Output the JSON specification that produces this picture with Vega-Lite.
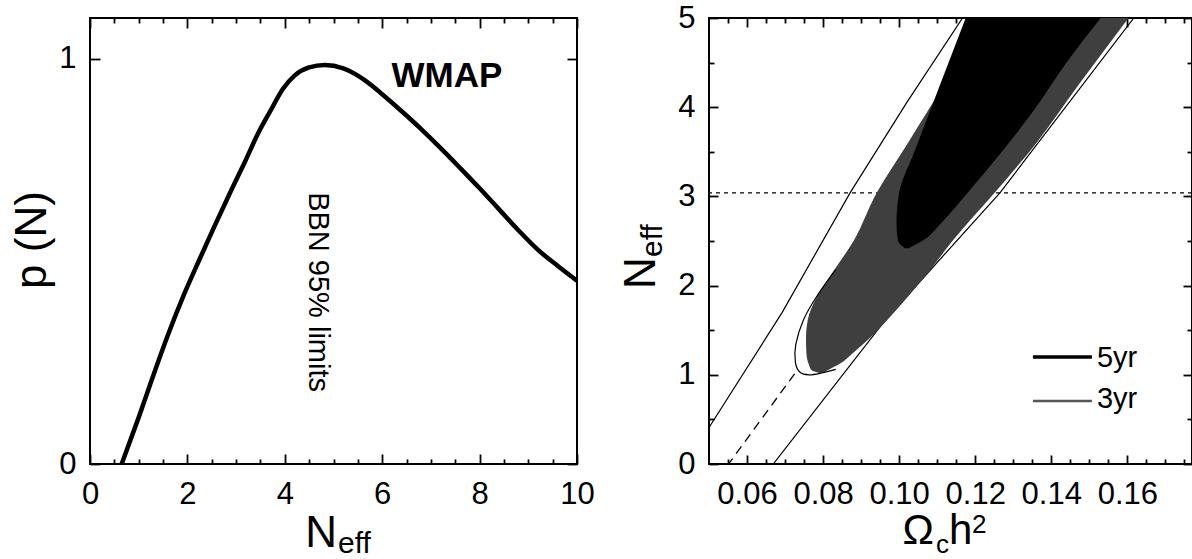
{
  "$schema": "https://vega.github.io/schema/vega-lite/v6.json",
  "autosize": {"type": "none"},
  "padding": {"left": 90, "top": 18, "right": 1102, "bottom": 541},
  "bounds": "flush",
  "spacing": 132,
  "config": {
    "font": "Liberation Sans",
    "view": {"stroke": "#000", "strokeWidth": 2},
    "axis": {
      "domain": false, "grid": false, "zindex": 1,
      "labelFont": "Liberation Sans", "labelFontSize": 31, "labelColor": "#000",
      "labelFlush": false, "labelOverlap": false,
      "tickColor": "#000", "tickWidth": 1.8
    },
    "text": {"font": "Liberation Sans", "color": "#000"}
  },
  "datasets": {
    "one": [{}],
    "curve": [
      {"N": 0.65, "p": 0.0}, {"N": 1.0, "p": 0.115}, {"N": 1.29, "p": 0.215},
      {"N": 1.6, "p": 0.318}, {"N": 1.92, "p": 0.415}, {"N": 2.25, "p": 0.505},
      {"N": 2.55, "p": 0.585}, {"N": 2.9, "p": 0.675}, {"N": 3.18, "p": 0.745},
      {"N": 3.45, "p": 0.815}, {"N": 3.7, "p": 0.87}, {"N": 3.96, "p": 0.925},
      {"N": 4.2, "p": 0.958}, {"N": 4.5, "p": 0.978}, {"N": 4.82, "p": 0.984},
      {"N": 5.2, "p": 0.976}, {"N": 5.5, "p": 0.958}, {"N": 5.75, "p": 0.937},
      {"N": 6.0, "p": 0.912}, {"N": 6.4, "p": 0.87}, {"N": 6.8, "p": 0.826},
      {"N": 7.2, "p": 0.779}, {"N": 7.6, "p": 0.73}, {"N": 8.0, "p": 0.68},
      {"N": 8.4, "p": 0.628}, {"N": 8.8, "p": 0.576}, {"N": 9.2, "p": 0.528},
      {"N": 9.6, "p": 0.489}, {"N": 10.0, "p": 0.452}
    ],
    "outer": [
      {"s": "L", "x": 0.0495, "y": 0.375}, {"s": "L", "x": 0.05047, "y": 0.44},
      {"s": "L", "x": 0.06925, "y": 1.7}, {"s": "L", "x": 0.08709, "y": 3.04},
      {"s": "L", "x": 0.10211, "y": 4.06}, {"s": "L", "x": 0.11667, "y": 5.0},
      {"s": "L", "x": 0.1174, "y": 5.05},
      {"s": "R", "x": 0.0665, "y": -0.03}, {"s": "R", "x": 0.0669, "y": 0.0},
      {"s": "R", "x": 0.0965, "y": 1.62}, {"s": "R", "x": 0.1265, "y": 3.04},
      {"s": "R", "x": 0.1617, "y": 5.0}, {"s": "R", "x": 0.1627, "y": 5.05}
    ],
    "diag": [
      {"x": 0.0548, "y": -0.02}, {"x": 0.073, "y": 1.04}
    ],
    "band95": [
      {"N": 1.02, "lo": 0.079, "hi": 0.080},
      {"N": 1.05, "lo": 0.077, "hi": 0.0812},
      {"N": 1.12, "lo": 0.0762, "hi": 0.0843},
      {"N": 1.25, "lo": 0.0756, "hi": 0.088},
      {"N": 1.4, "lo": 0.0755, "hi": 0.092},
      {"N": 1.62, "lo": 0.076, "hi": 0.097},
      {"N": 1.86, "lo": 0.0782, "hi": 0.102},
      {"N": 2.14, "lo": 0.0824, "hi": 0.1075},
      {"N": 2.5, "lo": 0.088, "hi": 0.114},
      {"N": 3.04, "lo": 0.0941, "hi": 0.1251},
      {"N": 3.6, "lo": 0.1023, "hi": 0.1361},
      {"N": 4.24, "lo": 0.1115, "hi": 0.147},
      {"N": 5.0, "lo": 0.1209, "hi": 0.1603}
    ],
    "band68": [
      {"N": 2.42, "lo": 0.1015, "hi": 0.1025},
      {"N": 2.5, "lo": 0.0997, "hi": 0.106},
      {"N": 2.7, "lo": 0.0993, "hi": 0.111},
      {"N": 3.04, "lo": 0.1, "hi": 0.118},
      {"N": 3.5, "lo": 0.104, "hi": 0.127},
      {"N": 4.0, "lo": 0.1085, "hi": 0.136},
      {"N": 4.5, "lo": 0.113, "hi": 0.144},
      {"N": 5.0, "lo": 0.1175, "hi": 0.153}
    ],
    "inner": [
      {"i": 1, "x": 0.08333, "y": 2.18}, {"i": 2, "x": 0.07864, "y": 1.9},
      {"i": 3, "x": 0.07488, "y": 1.62}, {"i": 4, "x": 0.07282, "y": 1.34},
      {"i": 5, "x": 0.07272, "y": 1.14}, {"i": 6, "x": 0.07394, "y": 1.028},
      {"i": 7, "x": 0.07629, "y": 1.0}, {"i": 8, "x": 0.07958, "y": 1.02},
      {"i": 9, "x": 0.08333, "y": 1.06}
    ]
  },
  "hconcat": [
    {
      "width": 487,
      "height": 446,
      "resolve": {"axis": {"x": "independent", "y": "independent"}},
      "layer": [
        {
          "data": {"name": "curve"},
          "mark": {"type": "line", "color": "#000", "strokeWidth": 4.5, "interpolate": "monotone"},
          "encoding": {
            "x": {
              "field": "N", "type": "quantitative",
              "scale": {"domain": [0, 10], "nice": false, "zero": false},
              "axis": {"orient": "bottom", "title": null, "format": "d", "values": [0, 2, 4, 6, 8, 10], "ticks": false, "tickSize": 0, "labelPadding": 15}
            },
            "y": {
              "field": "p", "type": "quantitative",
              "scale": {"domain": [0, 1.1], "nice": false, "zero": false},
              "axis": {"orient": "left", "title": null, "format": "d", "values": [0, 1], "ticks": false, "tickSize": 0, "labelPadding": 14}
            }
          }
        },
        {
          "data": {"name": "one"},
          "mark": {"type": "text", "text": "WMAP", "fontSize": 35, "fontWeight": "bold", "align": "center", "baseline": "alphabetic"},
          "encoding": {
            "x": {
              "datum": 7.33, "type": "quantitative",
              "axis": {"orient": "bottom", "title": null, "labels": false, "values": [0, 2, 4, 6, 8, 10], "tickSize": -10}
            },
            "y": {
              "datum": 0.93, "type": "quantitative",
              "axis": {"orient": "left", "title": null, "labels": false, "values": [0, 1], "tickSize": -10}
            }
          }
        },
        {
          "data": {"name": "one"},
          "mark": {"type": "text", "text": "BBN 95% limits", "fontSize": 29, "angle": 90, "align": "center", "baseline": "alphabetic"},
          "encoding": {
            "x": {
              "datum": 4.497, "type": "quantitative",
              "axis": {"orient": "bottom", "title": null, "labels": false, "values": [0.5, 1, 1.5, 2.5, 3, 3.5, 4.5, 5, 5.5, 6.5, 7, 7.5, 8.5, 9, 9.5], "tickSize": -5}
            },
            "y": {
              "datum": 0.424, "type": "quantitative",
              "axis": {"orient": "right", "title": null, "labels": false, "values": [0, 1], "tickSize": -10}
            }
          }
        },
        {
          "data": {"name": "one"},
          "mark": {"type": "text", "text": "p (N)", "fontSize": 44, "angle": -90, "align": "center", "baseline": "alphabetic"},
          "encoding": {
            "x": {
              "datum": -0.903, "type": "quantitative",
              "axis": {"orient": "top", "title": null, "labels": false, "values": [0, 2, 4, 6, 8, 10], "tickSize": -10}
            },
            "y": {"datum": 0.5525, "type": "quantitative", "axis": null}
          }
        },
        {
          "data": {"name": "one"},
          "mark": {"type": "text", "text": "N", "fontSize": 44, "align": "right", "baseline": "alphabetic"},
          "encoding": {
            "x": {
              "datum": 5.072, "type": "quantitative",
              "axis": {"orient": "top", "title": null, "labels": false, "values": [0.5, 1, 1.5, 2.5, 3, 3.5, 4.5, 5, 5.5, 6.5, 7, 7.5, 8.5, 9, 9.5], "tickSize": -5}
            },
            "y": {"datum": -0.2047, "type": "quantitative", "axis": null}
          }
        },
        {
          "data": {"name": "one"},
          "mark": {"type": "text", "text": "eff", "fontSize": 30, "align": "left", "baseline": "alphabetic"},
          "encoding": {
            "x": {"datum": 5.092, "type": "quantitative", "axis": null},
            "y": {"datum": -0.2195, "type": "quantitative", "axis": null}
          }
        }
      ]
    },
    {
      "width": 483,
      "height": 446,
      "resolve": {"axis": {"x": "independent", "y": "independent"}},
      "layer": [
        {
          "data": {"name": "one"},
          "mark": {"type": "rule", "color": "#000", "strokeWidth": 1.2, "strokeDash": [4, 4]},
          "encoding": {
            "y": {"datum": 3.04, "type": "quantitative", "axis": null}
          }
        },
        {
          "data": {"name": "outer"},
          "mark": {"type": "line", "color": "#000", "strokeWidth": 1.2, "clip": true},
          "encoding": {
            "x": {
              "field": "x", "type": "quantitative",
              "scale": {"domain": [0.05, 0.177], "nice": false, "zero": false},
              "axis": {"orient": "bottom", "title": null, "format": ".2f", "values": [0.06, 0.08, 0.1, 0.12, 0.14, 0.16], "ticks": false, "tickSize": 0, "labelPadding": 15}
            },
            "y": {
              "field": "y", "type": "quantitative",
              "scale": {"domain": [0, 5], "nice": false, "zero": false},
              "axis": {"orient": "left", "title": null, "format": "d", "values": [0, 1, 2, 3, 4, 5], "ticks": false, "tickSize": 0, "labelPadding": 14}
            },
            "detail": {"field": "s", "type": "nominal"},
            "order": {"field": "y", "type": "quantitative"}
          }
        },
        {
          "data": {"name": "diag"},
          "mark": {"type": "line", "color": "#000", "strokeWidth": 1.3, "strokeDash": [9, 6], "clip": true},
          "encoding": {
            "x": {
              "field": "x", "type": "quantitative",
              "axis": {"orient": "bottom", "title": null, "labels": false, "values": [0.06, 0.08, 0.1, 0.12, 0.14, 0.16], "tickSize": -9}
            },
            "y": {
              "field": "y", "type": "quantitative",
              "axis": {"orient": "left", "title": null, "labels": false, "values": [0, 1, 2, 3, 4, 5], "tickSize": -9}
            }
          }
        },
        {
          "data": {"name": "band95"},
          "mark": {"type": "area", "orient": "horizontal", "color": "#3f3f3f", "interpolate": "monotone", "clip": true},
          "encoding": {
            "y": {
              "field": "N", "type": "quantitative",
              "axis": {"orient": "left", "title": null, "labels": false, "values": [0.5, 1.5, 2.5, 3.5, 4.5], "tickSize": -5}
            },
            "x": {
              "field": "lo", "type": "quantitative",
              "axis": {"orient": "bottom", "title": null, "labels": false, "values": [0.055, 0.065, 0.07, 0.075, 0.085, 0.09, 0.095, 0.105, 0.11, 0.115, 0.125, 0.13, 0.135, 0.145, 0.15, 0.155, 0.165, 0.17, 0.175], "tickSize": -5}
            },
            "x2": {"field": "hi"}
          }
        },
        {
          "data": {"name": "band68"},
          "mark": {"type": "area", "orient": "horizontal", "color": "#000", "interpolate": "monotone", "clip": true},
          "encoding": {
            "y": {
              "field": "N", "type": "quantitative",
              "axis": {"orient": "right", "title": null, "labels": false, "values": [0, 1, 2, 3, 4, 5], "tickSize": -9}
            },
            "x": {
              "field": "lo", "type": "quantitative",
              "axis": {"orient": "top", "title": null, "labels": false, "values": [0.06, 0.08, 0.1, 0.12, 0.14, 0.16], "tickSize": -9}
            },
            "x2": {"field": "hi"}
          }
        },
        {
          "data": {"name": "inner"},
          "mark": {"type": "line", "color": "#000", "strokeWidth": 1.2, "interpolate": "cardinal", "clip": true},
          "encoding": {
            "x": {
              "field": "x", "type": "quantitative",
              "axis": {"orient": "top", "title": null, "labels": false, "values": [0.055, 0.065, 0.07, 0.075, 0.085, 0.09, 0.095, 0.105, 0.11, 0.115, 0.125, 0.13, 0.135, 0.145, 0.15, 0.155, 0.165, 0.17, 0.175], "tickSize": -5}
            },
            "y": {
              "field": "y", "type": "quantitative",
              "axis": {"orient": "right", "title": null, "labels": false, "values": [0.5, 1.5, 2.5, 3.5, 4.5], "tickSize": -5}
            },
            "order": {"field": "i", "type": "quantitative"}
          }
        },
        {
          "data": {"name": "one"},
          "mark": {"type": "rule", "color": "#000", "strokeWidth": 3.5},
          "encoding": {
            "x": {"datum": 0.13517, "type": "quantitative", "axis": null},
            "x2": {"datum": 0.15068},
            "y": {"datum": 1.2, "type": "quantitative", "axis": null}
          }
        },
        {
          "data": {"name": "one"},
          "mark": {"type": "rule", "color": "#555", "strokeWidth": 2.5},
          "encoding": {
            "x": {"datum": 0.13517, "type": "quantitative", "axis": null},
            "x2": {"datum": 0.15068},
            "y": {"datum": 0.706, "type": "quantitative", "axis": null}
          }
        },
        {
          "data": {"name": "one"},
          "mark": {"type": "text", "text": "5yr", "fontSize": 29, "align": "left", "baseline": "alphabetic"},
          "encoding": {
            "x": {"datum": 0.152, "type": "quantitative", "axis": null},
            "y": {"datum": 1.087, "type": "quantitative", "axis": null}
          }
        },
        {
          "data": {"name": "one"},
          "mark": {"type": "text", "text": "3yr", "fontSize": 29, "align": "left", "baseline": "alphabetic"},
          "encoding": {
            "x": {"datum": 0.152, "type": "quantitative", "axis": null},
            "y": {"datum": 0.628, "type": "quantitative", "axis": null}
          }
        },
        {
          "data": {"name": "one"},
          "mark": {"type": "text", "text": "N", "fontSize": 44, "angle": -90, "align": "left", "baseline": "alphabetic"},
          "encoding": {
            "x": {"datum": 0.0358, "type": "quantitative", "axis": null},
            "y": {"datum": 1.962, "type": "quantitative", "axis": null}
          }
        },
        {
          "data": {"name": "one"},
          "mark": {"type": "text", "text": "eff", "fontSize": 30, "angle": -90, "align": "left", "baseline": "alphabetic"},
          "encoding": {
            "x": {"datum": 0.03764, "type": "quantitative", "axis": null},
            "y": {"datum": 2.32, "type": "quantitative", "axis": null}
          }
        },
        {
          "data": {"name": "one"},
          "mark": {"type": "text", "text": "Ω", "fontSize": 42, "align": "right", "baseline": "alphabetic"},
          "encoding": {
            "x": {"datum": 0.10915, "type": "quantitative", "axis": null},
            "y": {"datum": -0.897, "type": "quantitative", "axis": null}
          }
        },
        {
          "data": {"name": "one"},
          "mark": {"type": "text", "text": "c", "fontSize": 26, "align": "left", "baseline": "alphabetic"},
          "encoding": {
            "x": {"datum": 0.10967, "type": "quantitative", "axis": null},
            "y": {"datum": -0.998, "type": "quantitative", "axis": null}
          }
        },
        {
          "data": {"name": "one"},
          "mark": {"type": "text", "text": "h", "fontSize": 42, "align": "left", "baseline": "alphabetic"},
          "encoding": {
            "x": {"datum": 0.11309, "type": "quantitative", "axis": null},
            "y": {"datum": -0.897, "type": "quantitative", "axis": null}
          }
        },
        {
          "data": {"name": "one"},
          "mark": {"type": "text", "text": "2", "fontSize": 26, "align": "left", "baseline": "alphabetic"},
          "encoding": {
            "x": {"datum": 0.11914, "type": "quantitative", "axis": null},
            "y": {"datum": -0.774, "type": "quantitative", "axis": null}
          }
        }
      ]
    }
  ]
}
